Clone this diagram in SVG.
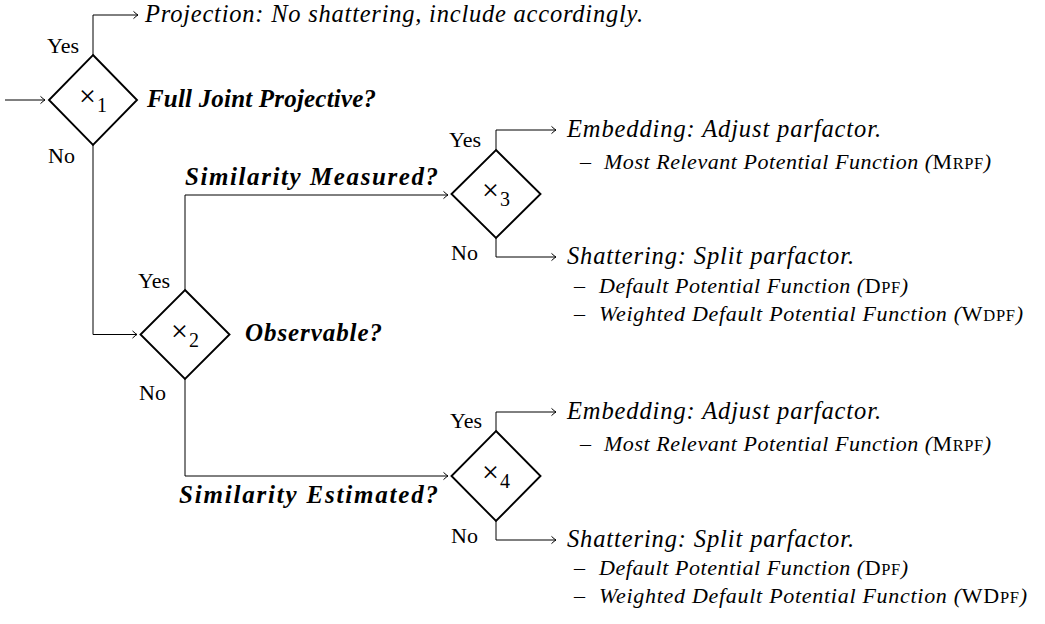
<svg xmlns="http://www.w3.org/2000/svg" width="1045" height="624" viewBox="0 0 1045 624">
<style>
.lbl{font-family:"Liberation Serif",serif;font-size:22px;fill:#000}
.q{font-family:"Liberation Serif",serif;font-size:25px;font-style:italic;font-weight:bold;fill:#000}
.t{font-family:"Liberation Serif",serif;font-size:24.5px;font-style:italic;fill:#000}
.s{font-family:"Liberation Serif",serif;font-size:22px;font-style:italic;fill:#000}
.sc{font-style:normal;font-size:16.5px}
.up{font-style:normal}
.x{font-family:"Liberation Serif",serif;font-size:30px;fill:#000}
.sub{font-family:"Liberation Serif",serif;font-size:20px;fill:#000}
.d{fill:#fff;stroke:#000;stroke-width:1.9}
.c{fill:none;stroke:#000;stroke-width:1}
</style>
<defs>
<marker id="ah" markerWidth="10" markerHeight="10" viewBox="-6 -5 7 10" refX="0" refY="0" orient="auto" markerUnits="userSpaceOnUse" overflow="visible">
<path d="M-4.5,-3.6 Q-1.5,-0.8 0,0 Q-1.5,0.8 -4.5,3.6" fill="none" stroke="#000" stroke-width="1"/>
</marker>
</defs>

<g id="connectors">
<path class="c" d="M5,100 H45" marker-end="url(#ah)"/>
<path class="c" d="M93,55 V15 H138" marker-end="url(#ah)"/>
<path class="c" d="M93,145 V334.5 H137" marker-end="url(#ah)"/>
<path class="c" d="M185,290 V195 H448" marker-end="url(#ah)"/>
<path class="c" d="M185,379 V476 H448" marker-end="url(#ah)"/>
<path class="c" d="M496,150 V130 H556" marker-end="url(#ah)"/>
<path class="c" d="M496,238 V257 H556" marker-end="url(#ah)"/>
<path class="c" d="M496,431 V412 H556" marker-end="url(#ah)"/>
<path class="c" d="M496,521 V540 H556" marker-end="url(#ah)"/>
</g>

<g id="n1">
<polygon class="d" points="93,55 137,100 93,145 49,100"/>
<text class="x" x="87.5" y="106" text-anchor="middle">×</text>
<text class="sub" x="97" y="112">1</text>
<text class="q" x="147" y="107" textLength="229" lengthAdjust="spacing">Full Joint Projective?</text>
<text class="lbl" x="47" y="53">Yes</text>
<text class="lbl" x="48" y="163">No</text>
</g>

<g id="out-projection">
<text class="t" x="145" y="22" textLength="498" lengthAdjust="spacing">Projection: No shattering, include accordingly.</text>
</g>

<g id="n2">
<polygon class="d" points="185,290 229.5,334.5 185,379 140.5,334.5"/>
<text class="x" x="179.5" y="340.5" text-anchor="middle">×</text>
<text class="sub" x="189" y="346.5">2</text>
<text class="q" x="245" y="341" textLength="137" lengthAdjust="spacing">Observable?</text>
<text class="lbl" x="138" y="288">Yes</text>
<text class="lbl" x="139" y="400">No</text>
</g>

<g id="edge-labels">
<text class="q" x="185" y="185" textLength="253" lengthAdjust="spacing">Similarity Measured?</text>
<text class="q" x="179" y="503" textLength="259" lengthAdjust="spacing">Similarity Estimated?</text>
</g>

<g id="n3">
<polygon class="d" points="496,150 540.5,194 496,238 451.5,194"/>
<text class="x" x="490.5" y="200" text-anchor="middle">×</text>
<text class="sub" x="500" y="206">3</text>
<text class="lbl" x="449" y="147">Yes</text>
<text class="lbl" x="451" y="260">No</text>
</g>

<g id="out3-yes">
<text class="t" x="567" y="137" textLength="314" lengthAdjust="spacing">Embedding: Adjust parfactor.</text>
<text class="s" x="580" y="169">–</text>
<text class="s" x="604" y="169" textLength="387" lengthAdjust="spacing">Most Relevant Potential Function (<tspan class="up">M</tspan><tspan class="sc">RPF</tspan>)</text>
</g>

<g id="out3-no">
<text class="t" x="567" y="264" textLength="287" lengthAdjust="spacing">Shattering: Split parfactor.</text>
<text class="s" x="574" y="293">–</text>
<text class="s" x="599" y="293" textLength="309" lengthAdjust="spacing">Default Potential Function (<tspan class="up">D</tspan><tspan class="sc">PF</tspan>)</text>
<text class="s" x="574" y="321">–</text>
<text class="s" x="599" y="321" textLength="424" lengthAdjust="spacing">Weighted Default Potential Function (<tspan class="up">W</tspan><tspan class="sc">DPF</tspan>)</text>
</g>

<g id="n4">
<polygon class="d" points="496,431 540.5,476 496,521 451.5,476"/>
<text class="x" x="490.5" y="482" text-anchor="middle">×</text>
<text class="sub" x="500" y="488">4</text>
<text class="lbl" x="450" y="428">Yes</text>
<text class="lbl" x="451" y="543">No</text>
</g>

<g id="out4-yes">
<text class="t" x="567" y="419" textLength="314" lengthAdjust="spacing">Embedding: Adjust parfactor.</text>
<text class="s" x="580" y="451">–</text>
<text class="s" x="604" y="451" textLength="387" lengthAdjust="spacing">Most Relevant Potential Function (<tspan class="up">M</tspan><tspan class="sc">RPF</tspan>)</text>
</g>

<g id="out4-no">
<text class="t" x="567" y="547" textLength="287" lengthAdjust="spacing">Shattering: Split parfactor.</text>
<text class="s" x="574" y="575">–</text>
<text class="s" x="599" y="575" textLength="309" lengthAdjust="spacing">Default Potential Function (<tspan class="up">D</tspan><tspan class="sc">PF</tspan>)</text>
<text class="s" x="574" y="603">–</text>
<text class="s" x="599" y="603" textLength="428" lengthAdjust="spacing">Weighted Default Potential Function (<tspan class="up">WD</tspan><tspan class="sc">PF</tspan>)</text>
</g>
</svg>
